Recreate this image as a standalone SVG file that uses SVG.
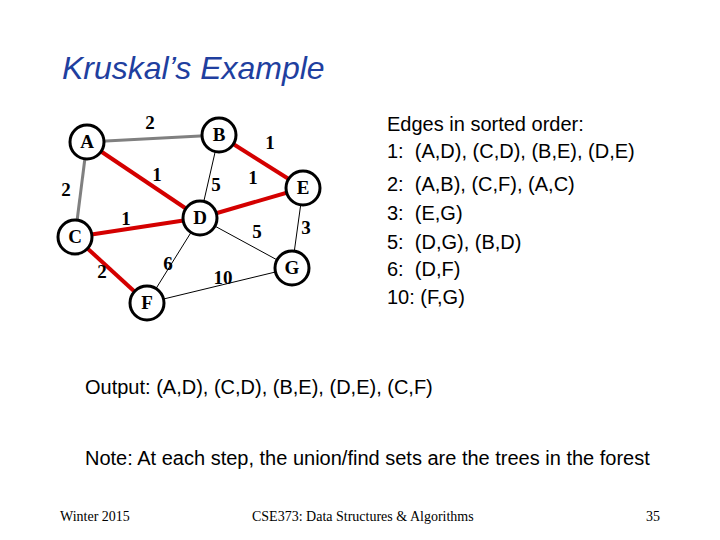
<svg xmlns="http://www.w3.org/2000/svg" width="720" height="540" viewBox="0 0 720 540">
<style>
.n{fill:#fff;stroke:#000;stroke-width:3}
.nl{font-family:"Liberation Serif",serif;font-weight:bold;font-size:19px;text-anchor:middle}
.w{font-family:"Liberation Serif",serif;font-weight:bold;font-size:19px;text-anchor:middle}
.s{font-family:"Liberation Sans",sans-serif;font-size:20px;white-space:pre}
.r{stroke:#d40000;stroke-width:4}
.g{stroke:#808080;stroke-width:3}
.t{stroke:#000;stroke-width:1}
</style>
<rect width="720" height="540" fill="#fff"/>
<text x="62" y="79" font-family="Liberation Sans,sans-serif" font-style="italic" font-size="32" fill="#1f3f9f">Kruskal’s Example</text>
<g id="connectors">
<line class="g" x1="87" y1="142" x2="219" y2="135"/>
<line class="g" x1="75" y1="237" x2="87" y2="142"/>
<line class="r" x1="87" y1="142" x2="200" y2="218"/>
<line class="r" x1="219" y1="135" x2="303" y2="188"/>
<line class="r" x1="200" y1="218" x2="303" y2="188"/>
<line class="r" x1="75" y1="237" x2="200" y2="218"/>
<line class="r" x1="75" y1="237" x2="147" y2="303"/>
<line class="t" x1="219" y1="135" x2="200" y2="218"/>
<line class="t" x1="200" y1="218" x2="292" y2="268"/>
<line class="t" x1="303" y1="188" x2="292" y2="268"/>
<line class="t" x1="200" y1="218" x2="147" y2="303"/>
<line class="t" x1="147" y1="303" x2="292" y2="268"/>
</g>
<g id="weights">
<text class="w" x="150" y="129">2</text>
<text class="w" x="270" y="149">1</text>
<text class="w" x="157" y="181">1</text>
<text class="w" x="216" y="191">5</text>
<text class="w" x="253" y="184">1</text>
<text class="w" x="66" y="196">2</text>
<text class="w" x="126" y="225">1</text>
<text class="w" x="257" y="238">5</text>
<text class="w" x="306" y="234">3</text>
<text class="w" x="168" y="270">6</text>
<text class="w" x="102" y="278">2</text>
<text class="w" x="223" y="284">10</text>
</g>
<g id="A"><circle class="n" cx="87" cy="142" r="17"/><text class="nl" x="87" y="148">A</text></g>
<g id="B"><circle class="n" cx="219" cy="135" r="17"/><text class="nl" x="219" y="141">B</text></g>
<g id="E"><circle class="n" cx="303" cy="188" r="17"/><text class="nl" x="303" y="194">E</text></g>
<g id="D"><circle class="n" cx="200" cy="218" r="17"/><text class="nl" x="200" y="224">D</text></g>
<g id="C"><circle class="n" cx="75" cy="237" r="17"/><text class="nl" x="75" y="243">C</text></g>
<g id="G"><circle class="n" cx="292" cy="268" r="17"/><text class="nl" x="292" y="274">G</text></g>
<g id="F"><circle class="n" cx="147" cy="303" r="17"/><text class="nl" x="147" y="309">F</text></g>
<g id="text">
<text class="s" x="387" y="131">Edges in sorted order:</text>
<text class="s" x="387" y="158">1:  (A,D), (C,D), (B,E), (D,E)</text>
<text class="s" x="387" y="191">2:  (A,B), (C,F), (A,C)</text>
<text class="s" x="387" y="220">3:  (E,G)</text>
<text class="s" x="387" y="249">5:  (D,G), (B,D)</text>
<text class="s" x="387" y="276">6:  (D,F)</text>
<text class="s" x="387" y="304">10: (F,G)</text>
<text class="s" x="85" y="394">Output: (A,D), (C,D), (B,E), (D,E), (C,F)</text>
<text class="s" x="85" y="465">Note: At each step, the union/find sets are the trees in the forest</text>
<text x="60" y="521" font-family="Liberation Serif,serif" font-size="14">Winter 2015</text>
<text x="252" y="521" font-family="Liberation Serif,serif" font-size="14">CSE373: Data Structures &amp; Algorithms</text>
<text x="660" y="521" text-anchor="end" font-family="Liberation Serif,serif" font-size="14">35</text>
</g>
</svg>
